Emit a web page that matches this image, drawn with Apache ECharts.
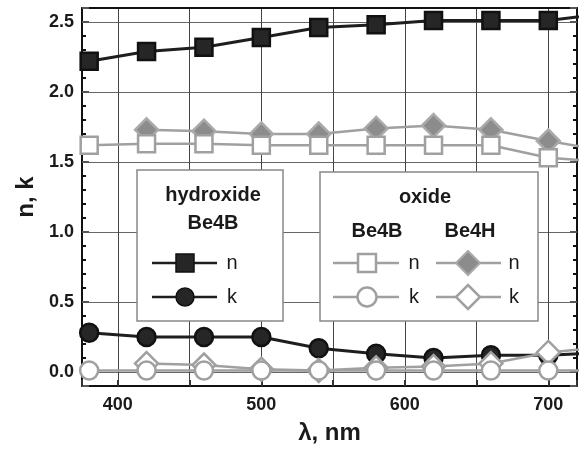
<!DOCTYPE html>
<html>
<head>
<meta charset="utf-8">
<script src="https://cdn.jsdelivr.net/npm/echarts@6/dist/echarts.min.js"></script>
<style>
html, body { margin: 0; padding: 0; background: #fff; }
#chart { width: 581px; height: 450px; }
</style>
</head>
<body>
<div id="chart"></div>
<script>
// wavelength, nm (the last point is past the axis end, only its line segment shows)
var wavelength = [380, 420, 460, 500, 540, 580, 620, 660, 700, 740];
var wavelengthBe4H = [420, 460, 500, 540, 580, 620, 660, 700, 740];

// hydroxide Be4B
var hydroxideN = [2.22, 2.29, 2.32, 2.39, 2.46, 2.48, 2.51, 2.51, 2.51, 2.56];
var hydroxideK = [0.28, 0.25, 0.25, 0.25, 0.17, 0.13, 0.10, 0.12, 0.12, 0.14];
// oxide Be4B
var oxideBe4BN = [1.62, 1.63, 1.63, 1.62, 1.62, 1.62, 1.62, 1.62, 1.53, 1.50];
var oxideBe4BK = [0.01, 0.01, 0.01, 0.01, 0.01, 0.01, 0.01, 0.01, 0.01, 0.01];
// oxide Be4H
var oxideBe4HN = [1.73, 1.72, 1.70, 1.70, 1.74, 1.76, 1.73, 1.65, 1.58];
var oxideBe4HK = [0.06, 0.05, 0.02, 0.01, 0.03, 0.04, 0.06, 0.14, 0.18];

// tick labels
var xTickLabels = [400, 500, 600, 700];
var yTickLabels = [0, 0.5, 1.0, 1.5, 2.0, 2.5];

var DARK = '#1e1e1e';
var GRAY = '#a0a0a0';

function pairs(xs, ys) {
    return xs.map(function (x, i) {
        return [x, ys[i]];
    });
}

var myChart = echarts.init(document.getElementById('chart'));

var labelFont = {
    fontFamily: 'Liberation Sans',
    fontWeight: 'bold',
    fontSize: 18,
    color: '#1a1a1a'
};

function yAxisBase(isRight) {
    return {
        type: 'value',
        position: isRight ? 'right' : 'left',
        min: -0.1,
        max: 2.6,
        splitNumber: 5,
        name: isRight ? '' : 'n, k',
        nameLocation: 'middle',
        nameGap: 44,
        nameTextStyle: {
            fontFamily: 'Liberation Sans',
            fontWeight: 'bold',
            fontSize: 24,
            color: '#1a1a1a'
        },
        axisLine: { show: true, onZero: false, lineStyle: { color: '#111', width: 2 } },
        axisTick: { show: true, inside: true, length: 7, lineStyle: { color: '#555', width: 2 } },
        minorTick: { show: true, splitNumber: 5, length: 4, lineStyle: { color: '#111', width: 2 } },
        axisLabel: {
            show: !isRight,
            margin: 8,
            fontFamily: labelFont.fontFamily,
            fontWeight: labelFont.fontWeight,
            fontSize: labelFont.fontSize,
            color: labelFont.color,
            formatter: function (v) {
                var ok = yTickLabels.some(function (t) { return Math.abs(t - v) < 1e-6; });
                return ok ? v.toFixed(1) : '';
            }
        },
        splitLine: { show: !isRight, lineStyle: { color: '#666', width: 1 } }
    };
}

function xAxisBase(isTop) {
    return {
        type: 'value',
        position: isTop ? 'top' : 'bottom',
        min: 375,
        max: 720,
        splitNumber: 7,
        name: isTop ? '' : 'λ, nm',
        nameLocation: 'middle',
        nameGap: 35,
        nameTextStyle: {
            fontFamily: 'Liberation Sans',
            fontWeight: 'bold',
            fontSize: 24,
            color: '#1a1a1a'
        },
        axisLine: { show: true, onZero: false, lineStyle: { color: '#111', width: 2 } },
        axisTick: { show: !isTop, inside: true, length: 6, lineStyle: { color: '#333', width: 2 } },
        axisLabel: {
            show: !isTop,
            margin: 10,
            fontFamily: labelFont.fontFamily,
            fontWeight: labelFont.fontWeight,
            fontSize: labelFont.fontSize,
            color: labelFont.color,
            formatter: function (v) {
                return xTickLabels.indexOf(v) >= 0 ? String(v) : '';
            }
        },
        splitLine: { show: !isTop, lineStyle: { color: '#444', width: 1 } }
    };
}

function lineSeries(name, data, color, symbol, size, fill, border, width) {
    return {
        name: name,
        type: 'line',
        data: data,
        clip: true,
        symbol: symbol,
        symbolSize: size,
        showAllSymbol: true,
        lineStyle: { color: color, width: width || 2.5 },
        itemStyle: { color: fill, borderColor: border, borderWidth: 2.5 },
        emphasis: { disabled: true },
        animation: false
    };
}

// legend boxes are drawn by hand (two grouped panels)
function legendLine(x1, x2, y, color) {
    return { type: 'line', z: 101, shape: { x1: x1, y1: y, x2: x2, y2: y }, style: { stroke: color, lineWidth: 2.5 } };
}
function legendText(x, y, txt, bold, size) {
    return {
        type: 'text', z: 102, x: x, y: y,
        style: {
            text: txt, fill: '#1a1a1a',
            font: (bold ? 'bold ' : '') + size + 'px "Liberation Sans"',
            align: 'center', verticalAlign: 'middle'
        }
    };
}

var graphics = [
    { type: 'rect', z: 100, shape: { x: 137, y: 170, width: 146, height: 151 }, style: { fill: '#fff', stroke: '#888', lineWidth: 1.5 } },
    { type: 'rect', z: 100, shape: { x: 320, y: 172, width: 218, height: 149 }, style: { fill: '#fff', stroke: '#888', lineWidth: 1.5 } },
    legendText(213, 195, 'hydroxide', true, 20),
    legendText(213, 223, 'Be4B', true, 20),
    legendLine(152, 217, 263, DARK),
    { type: 'rect', z: 102, shape: { x: 176, y: 254, width: 18, height: 18 }, style: { fill: '#262626', stroke: '#111', lineWidth: 1.5 } },
    legendText(232, 263, 'n', false, 20),
    legendLine(152, 217, 297, DARK),
    { type: 'circle', z: 102, shape: { cx: 185, cy: 297, r: 9 }, style: { fill: '#262626', stroke: '#111', lineWidth: 1.5 } },
    legendText(232, 297, 'k', false, 20),

    legendText(425, 197, 'oxide', true, 20),
    legendText(377, 231, 'Be4B', true, 20),
    legendText(470, 231, 'Be4H', true, 20),
    legendLine(333, 399, 263, GRAY),
    { type: 'rect', z: 102, shape: { x: 358, y: 254, width: 18, height: 18 }, style: { fill: '#fff', stroke: GRAY, lineWidth: 2.5 } },
    legendText(414, 263, 'n', false, 20),
    legendLine(333, 399, 297, GRAY),
    { type: 'circle', z: 102, shape: { cx: 367, cy: 297, r: 9.5 }, style: { fill: '#fff', stroke: GRAY, lineWidth: 2.5 } },
    legendText(414, 297, 'k', false, 20),
    legendLine(436, 501, 263, GRAY),
    { type: 'polygon', z: 102, shape: { points: [[468, 251], [480, 263], [468, 275], [456, 263]] }, style: { fill: '#8c8c8c', stroke: '#aaa', lineWidth: 2 } },
    legendText(514, 263, 'n', false, 20),
    legendLine(436, 501, 297, GRAY),
    { type: 'polygon', z: 102, shape: { points: [[468, 285], [480, 297], [468, 309], [456, 297]] }, style: { fill: '#fff', stroke: GRAY, lineWidth: 2.5 } },
    legendText(514, 297, 'k', false, 20)
];

var option = {
    backgroundColor: '#fff',
    animation: false,
    grid: { left: 82, right: 4, top: 8, bottom: 62, containLabel: false },
    xAxis: [xAxisBase(false), xAxisBase(true)],
    yAxis: [yAxisBase(false), yAxisBase(true)],
    graphic: graphics,
    series: [
        lineSeries('hydroxide n', pairs(wavelength, hydroxideN), DARK, 'rect', 17, '#262626', '#111', 3),
        lineSeries('hydroxide k', pairs(wavelength, hydroxideK), DARK, 'circle', 18, '#262626', '#111', 3),
        lineSeries('Be4H n', pairs(wavelengthBe4H, oxideBe4HN), GRAY, 'diamond', 23, '#8c8c8c', '#aaa'),
        lineSeries('Be4B n', pairs(wavelength, oxideBe4BN), GRAY, 'rect', 17, '#fff', GRAY),
        lineSeries('Be4H k', pairs(wavelengthBe4H, oxideBe4HK), GRAY, 'diamond', 23, '#fff', GRAY),
        lineSeries('Be4B k', pairs(wavelength, oxideBe4BK), GRAY, 'circle', 18, '#fff', GRAY)
    ]
};

myChart.setOption(option);
</script>
</body>
</html>
